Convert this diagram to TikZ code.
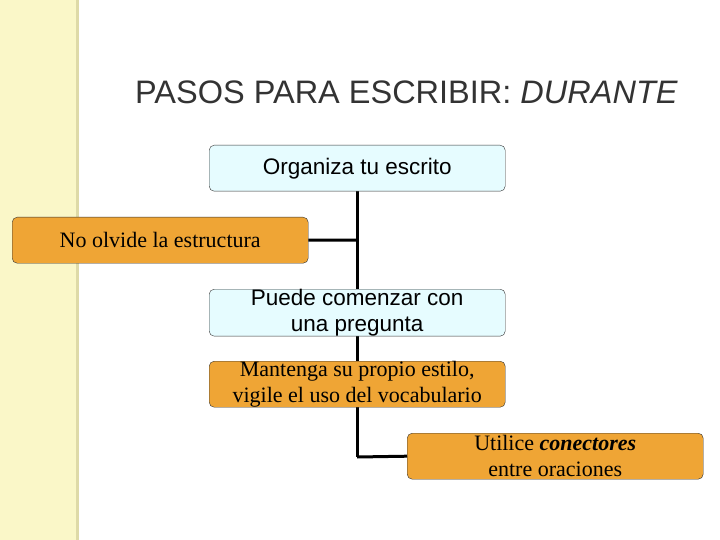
\documentclass[tikz,border=0pt]{standalone}
\usepackage{fontspec}
\setmainfont{Liberation Serif}
\newfontfamily\arial{Liberation Sans}
\definecolor{og}{HTML}{EFA535}
\definecolor{cy}{HTML}{E6FCFF}
\definecolor{strip}{HTML}{FAF7C8}
\definecolor{stripb}{HTML}{DEDAA8}
\begin{document}
\begin{tikzpicture}[x=1pt,y=-1pt,
  bx/.style={draw=black!80,rounded corners=5pt,minimum width=296pt,minimum height=46pt,inner sep=0pt,align=center,anchor=north west},
  cyb/.style={bx,fill=cy,font=\arial\fontsize{22.5}{26}\selectfont},
  ogb/.style={bx,fill=og,font=\fontsize{22}{26}\selectfont},
  ln/.style={line width=3pt}]
\useasboundingbox (0,0) rectangle (720,540);
\fill[strip] (0,0) rectangle (76,540);
\fill[stripb] (76,0) rectangle (79,540);
\node[anchor=west,inner sep=0pt,font=\arial\fontsize{32.5}{38}\selectfont,text=black!80] (t) at (135,92) {PASOS PARA ESCRIBIR: \textit{DURANTE}};
\coordinate (top) at (357,191);
\coordinate (j1) at (357,240);
\coordinate (j2) at (357,457);
\draw[ln] (top) -- (j2);
\node[cyb] (a) at (209,145) {Organiza tu escrito};
\node[ogb] (b) at (12,217) {No olvide la estructura};
\node[cyb] (c) at (209,289) {Puede comenzar con\\una pregunta};
\node[ogb] (d) at (209,361) {Mantenga su propio estilo,\\vigile el uso del vocabulario};
\node[ogb] (e) at (407,433) {Utilice \textbf{\textit{conectores}}\\entre oraciones};
\draw[ln] (b.east) -- (j1);
\draw[ln] (j2) -- (e.west);
\end{tikzpicture}
\end{document}
